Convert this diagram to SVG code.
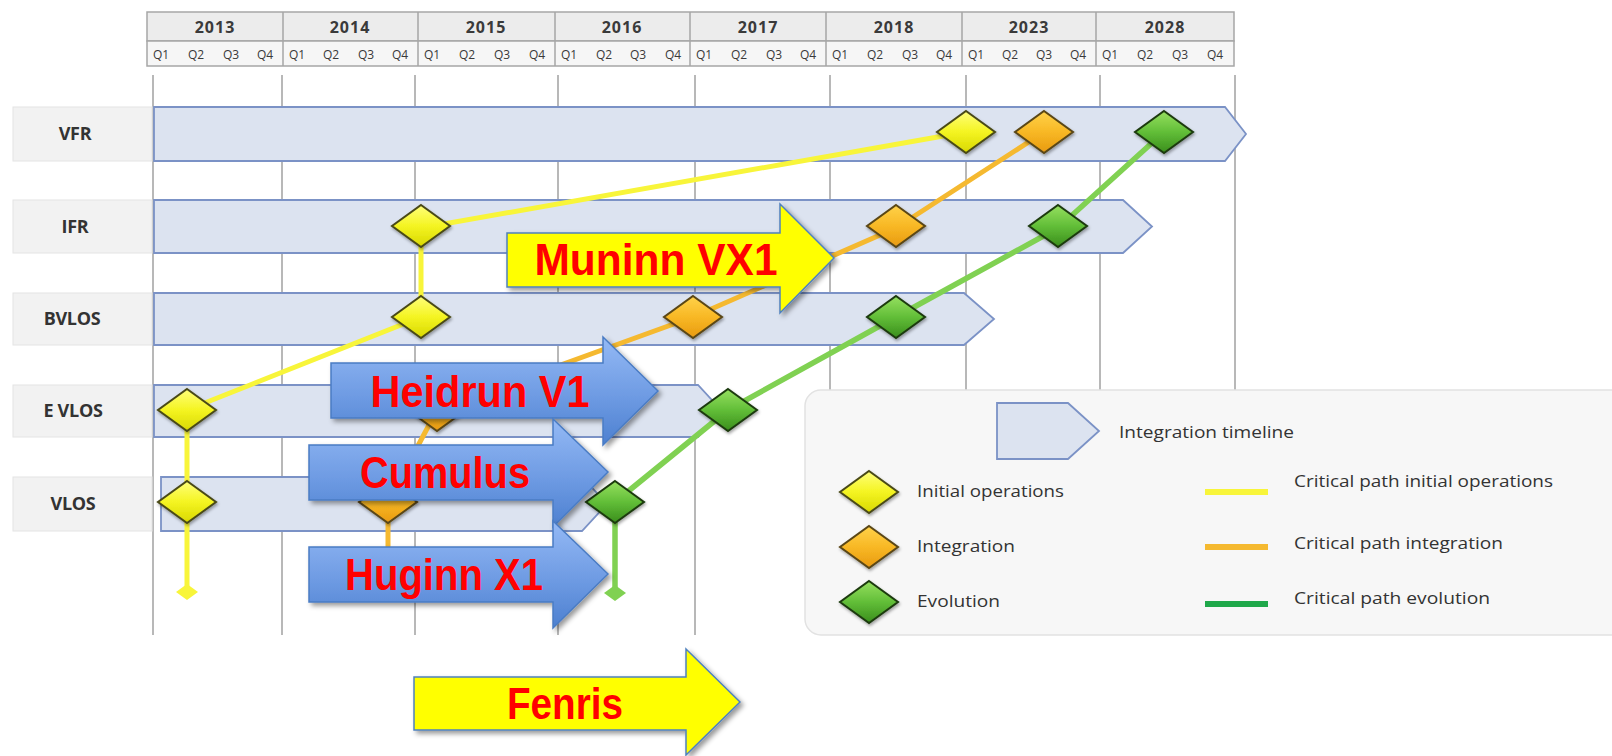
<svg xmlns="http://www.w3.org/2000/svg" width="1612" height="756" viewBox="0 0 1612 756">
<style>
.hdr{fill:#ececec;stroke:#a6a6a6;stroke-width:1.5}
.qrow{fill:#f6f6f6;stroke:#a6a6a6;stroke-width:1.5}
.yr{font-family:"Open Sans","Liberation Sans",sans-serif;font-weight:700;font-size:16px;letter-spacing:1px;fill:#3a3a3a;text-anchor:middle}
.q{font-family:"Open Sans","Liberation Sans",sans-serif;font-size:12px;fill:#3a3a3a;text-anchor:middle}
.grid{stroke:#a0a0a0;stroke-width:1.5}
.lbl{fill:#f2f2f2;stroke:#e4e4e4;stroke-width:1}
.lt{font-family:"Open Sans","Liberation Sans",sans-serif;font-weight:700;font-size:18px;fill:#333;text-anchor:middle;letter-spacing:-0.3px}
.bar{fill:#dce3f0;stroke:#7b92c6;stroke-width:1.8}
.py{fill:none;stroke:#f8f53a;stroke-width:5;stroke-linejoin:round}
.po{fill:none;stroke:#f5b930;stroke-width:5;stroke-linejoin:round}
.pg{fill:none;stroke:#80d152;stroke-width:5.5;stroke-linejoin:round}
.dy{fill:url(#gy);stroke:#4a4a18;stroke-width:2;filter:url(#ds)}
.do{fill:url(#go);stroke:#5a4615;stroke-width:2;filter:url(#ds)}
.dg{fill:url(#gg);stroke:#1c3a10;stroke-width:2;filter:url(#ds)}
.cb{fill:url(#gb);stroke:#4a7cc4;stroke-width:1.5;filter:url(#sh)}
.cy{fill:#ffff00;stroke:#4f81bd;stroke-width:1.5;filter:url(#sh)}
.ct{font-family:"Liberation Sans",Arial,sans-serif;font-weight:700;font-size:45px;fill:#ff0000;text-anchor:middle}
.leg{fill:#f7f7f7;stroke:#e2e2e2;stroke-width:1.5}
.ltx{font-family:"Open Sans","Liberation Sans",sans-serif;font-size:17px;fill:#333}
</style>
<defs>
<linearGradient id="gy" x1="0" y1="0" x2="0" y2="1"><stop offset="0" stop-color="#ffff7a"/><stop offset="0.5" stop-color="#f4f422"/><stop offset="1" stop-color="#d8d800"/></linearGradient>
<linearGradient id="go" x1="0" y1="0" x2="0" y2="1"><stop offset="0" stop-color="#ffd24a"/><stop offset="0.5" stop-color="#f8b825"/><stop offset="1" stop-color="#e89a10"/></linearGradient>
<linearGradient id="gg" x1="0" y1="0" x2="0" y2="1"><stop offset="0" stop-color="#96e060"/><stop offset="0.5" stop-color="#62be38"/><stop offset="1" stop-color="#3a8e1c"/></linearGradient>
<linearGradient id="gb" x1="0" y1="0" x2="0" y2="1"><stop offset="0" stop-color="#94b9f5"/><stop offset="0.55" stop-color="#6e9be3"/><stop offset="1" stop-color="#4d80d0"/></linearGradient>
<filter id="ds" x="-30%" y="-30%" width="160%" height="170%"><feDropShadow dx="1" dy="2" stdDeviation="1.5" flood-color="#000" flood-opacity="0.35"/></filter>
<filter id="sh" x="-10%" y="-20%" width="125%" height="150%"><feDropShadow dx="3" dy="3" stdDeviation="2.5" flood-color="#000" flood-opacity="0.4"/></filter>
<path id="dm" d="M0,-21 L29,0 L0,21 L-29,0 Z"/>
<path id="de" d="M0,-8 L11,0 L0,8 L-11,0 Z"/>
</defs>
<rect width="1612" height="756" fill="#ffffff"/>

<g id="grid">
<line class="grid" x1="153" y1="75" x2="153" y2="635"/>
<line class="grid" x1="282" y1="75" x2="282" y2="635"/>
<line class="grid" x1="415" y1="75" x2="415" y2="635"/>
<line class="grid" x1="558" y1="75" x2="558" y2="635"/>
<line class="grid" x1="695" y1="75" x2="695" y2="635"/>
<line class="grid" x1="830" y1="75" x2="830" y2="635"/>
<line class="grid" x1="966" y1="75" x2="966" y2="635"/>
<line class="grid" x1="1100" y1="75" x2="1100" y2="635"/>
<line class="grid" x1="1235" y1="75" x2="1235" y2="635"/>
</g>

<g id="header">
<rect class="hdr" x="147" y="12" width="1087" height="29"/>
<rect class="qrow" x="147" y="41" width="1087" height="25"/>
<g stroke="#a6a6a6" stroke-width="1.5">
<line x1="283" y1="12" x2="283" y2="66"/><line x1="418" y1="12" x2="418" y2="66"/><line x1="555" y1="12" x2="555" y2="66"/><line x1="690" y1="12" x2="690" y2="66"/><line x1="826" y1="12" x2="826" y2="66"/><line x1="962" y1="12" x2="962" y2="66"/><line x1="1096" y1="12" x2="1096" y2="66"/>
</g>
<text class="yr" x="215" y="33">2013</text><text class="yr" x="350" y="33">2014</text><text class="yr" x="486" y="33">2015</text><text class="yr" x="622" y="33">2016</text><text class="yr" x="758" y="33">2017</text><text class="yr" x="894" y="33">2018</text><text class="yr" x="1029" y="33">2023</text><text class="yr" x="1165" y="33">2028</text>
<g class="q">
<text x="161" y="59">Q1</text><text x="196" y="59">Q2</text><text x="231" y="59">Q3</text><text x="265" y="59">Q4</text>
<text x="297" y="59">Q1</text><text x="331" y="59">Q2</text><text x="366" y="59">Q3</text><text x="400" y="59">Q4</text>
<text x="432" y="59">Q1</text><text x="467" y="59">Q2</text><text x="502" y="59">Q3</text><text x="537" y="59">Q4</text>
<text x="569" y="59">Q1</text><text x="604" y="59">Q2</text><text x="638" y="59">Q3</text><text x="673" y="59">Q4</text>
<text x="704" y="59">Q1</text><text x="739" y="59">Q2</text><text x="774" y="59">Q3</text><text x="808" y="59">Q4</text>
<text x="840" y="59">Q1</text><text x="875" y="59">Q2</text><text x="910" y="59">Q3</text><text x="944" y="59">Q4</text>
<text x="976" y="59">Q1</text><text x="1010" y="59">Q2</text><text x="1044" y="59">Q3</text><text x="1078" y="59">Q4</text>
<text x="1110" y="59">Q1</text><text x="1145" y="59">Q2</text><text x="1180" y="59">Q3</text><text x="1215" y="59">Q4</text>
</g>
</g>

<g id="row-vfr">
<rect class="lbl" x="13" y="107" width="139" height="54"/>
<text class="lt" x="75" y="140">VFR</text>
<polygon class="bar" points="154,107 1225,107 1246,134 1225,161 154,161"/>
</g>
<g id="row-ifr">
<rect class="lbl" x="13" y="200" width="139" height="53"/>
<text class="lt" x="75" y="233">IFR</text>
<polygon class="bar" points="154,200 1123,200 1152,226.5 1123,253 154,253"/>
</g>
<g id="row-bvlos">
<rect class="lbl" x="13" y="293" width="139" height="52"/>
<text class="lt" x="72" y="325">BVLOS</text>
<polygon class="bar" points="154,293 964,293 994,319 964,345 154,345"/>
</g>
<g id="row-evlos">
<rect class="lbl" x="13" y="385" width="139" height="52"/>
<text class="lt" x="73" y="417">E VLOS</text>
<polygon class="bar" points="154,385 698,385 722,411 698,437 154,437"/>
</g>
<g id="row-vlos">
<rect class="lbl" x="13" y="477" width="139" height="54"/>
<text class="lt" x="73" y="510">VLOS</text>
<polygon class="bar" points="161,477 582,477 607,504 582,531 161,531"/>
</g>

<g id="connectors">
<polyline class="py" points="187,590 187,410 421,317 421,228 966,132"/>
<use href="#de" x="187" y="592" fill="#f8f53a"/>
<polyline class="po" points="388,592 388,502 437,410 693,317 896,228 1044,132"/>
<polyline class="pg" points="615,590 615,502 728,410 896,317 1058,228 1164,132"/>
<use href="#de" x="615" y="593" fill="#80d152"/>
</g>

<g id="milestones">
<use href="#dm" class="dy" x="966" y="132"/>
<use href="#dm" class="do" x="1044" y="132"/>
<use href="#dm" class="dg" x="1164" y="132"/>
<use href="#dm" class="dy" x="421" y="226"/>
<use href="#dm" class="do" x="896" y="226"/>
<use href="#dm" class="dg" x="1058" y="226"/>
<use href="#dm" class="dy" x="421" y="317"/>
<use href="#dm" class="do" x="693" y="317"/>
<use href="#dm" class="dg" x="896" y="317"/>
<use href="#dm" class="dy" x="187" y="410"/>
<use href="#dm" class="do" x="437" y="410"/>
<use href="#dm" class="dg" x="728" y="410"/>
<use href="#dm" class="dy" x="187" y="502"/>
<use href="#dm" class="do" x="388" y="502"/>
<use href="#dm" class="dg" x="615" y="502"/>
</g>

<g id="legend">
<rect class="leg" x="805" y="390" width="830" height="245" rx="16"/>
<polygon class="bar" points="997,403 1068,403 1099,431 1068,459 997,459"/>
<text class="ltx" x="1119" y="438" textLength="175" lengthAdjust="spacingAndGlyphs">Integration timeline</text>
<use href="#dm" class="dy" x="869" y="492"/>
<use href="#dm" class="do" x="869" y="547"/>
<use href="#dm" class="dg" x="869" y="602"/>
<text class="ltx" x="917" y="497" textLength="147" lengthAdjust="spacingAndGlyphs">Initial operations</text>
<text class="ltx" x="917" y="552" textLength="98" lengthAdjust="spacingAndGlyphs">Integration</text>
<text class="ltx" x="917" y="607" textLength="83" lengthAdjust="spacingAndGlyphs">Evolution</text>
<rect x="1205" y="489" width="63" height="6" fill="#f8f53a"/>
<rect x="1205" y="544" width="63" height="6" fill="#f5b930"/>
<rect x="1205" y="601" width="63" height="6" fill="#1fa84a"/>
<text class="ltx" x="1294" y="487" textLength="259" lengthAdjust="spacingAndGlyphs">Critical path initial operations</text>
<text class="ltx" x="1294" y="549" textLength="209" lengthAdjust="spacingAndGlyphs">Critical path integration</text>
<text class="ltx" x="1294" y="604" textLength="196" lengthAdjust="spacingAndGlyphs">Critical path evolution</text>
</g>

<g id="callout-muninn">
<polygon class="cy" points="507,233 780,233 780,204 834,258 780,313 780,287 507,287"/>
<text class="ct" x="656" y="275" textLength="243" lengthAdjust="spacingAndGlyphs">Muninn VX1</text>
</g>
<g id="callout-heidrun">
<polygon class="cb" points="331,363 603,363 603,337 658,391 603,445 603,418 331,418"/>
<text class="ct" x="480" y="407" textLength="219" lengthAdjust="spacingAndGlyphs">Heidrun V1</text>
</g>
<g id="callout-cumulus">
<polygon class="cb" points="309,445 553,445 553,419 608,472 553,527 553,500 309,500"/>
<text class="ct" x="445" y="488" textLength="170" lengthAdjust="spacingAndGlyphs">Cumulus</text>
</g>
<g id="callout-huginn">
<polygon class="cb" points="309,547 553,547 553,521 608,574 553,628 553,602 309,602"/>
<text class="ct" x="444" y="590" textLength="198" lengthAdjust="spacingAndGlyphs">Huginn X1</text>
</g>
<g id="callout-fenris">
<polygon class="cy" points="414,677 686,677 686,649 740,702 686,755 686,730 414,730"/>
<text class="ct" x="565" y="719" font-size="42" textLength="116" lengthAdjust="spacingAndGlyphs">Fenris</text>
</g>
</svg>
